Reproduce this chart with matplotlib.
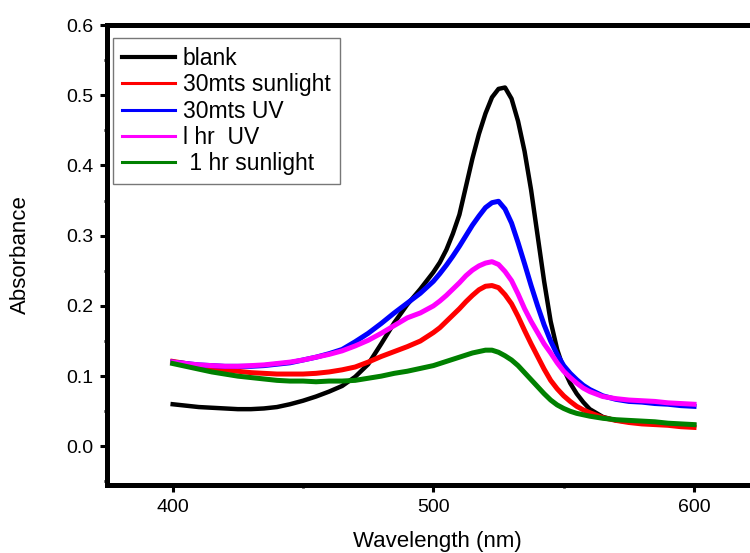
import numpy as np
import matplotlib
matplotlib.use("Agg")
import matplotlib.pyplot as plt
from matplotlib.ticker import MultipleLocator

plt.rcParams["font.family"] = ["Liberation Sans", "DejaVu Sans"]

# Wavelength grid (nm): finer steps across the plasmon band
wavelength = (list(range(400, 500, 5)) + list(np.arange(500, 560, 2.5))
              + list(range(560, 601, 5)))

blank = [0.060, 0.058, 0.056, 0.055, 0.054, 0.053, 0.053, 0.054, 0.056, 0.060,
         0.065, 0.071, 0.078, 0.086, 0.099, 0.117, 0.146, 0.176, 0.202, 0.224,
         0.248, 0.262, 0.280, 0.303, 0.330, 0.370, 0.410, 0.445, 0.474, 0.497,
         0.509, 0.511, 0.495, 0.463, 0.420, 0.365, 0.300, 0.235, 0.178, 0.138,
         0.110, 0.090, 0.075, 0.063,
         0.053, 0.042, 0.037, 0.035, 0.034, 0.033, 0.032, 0.031, 0.030]

sun_30 = [0.121, 0.118, 0.114, 0.111, 0.109, 0.107, 0.105, 0.104, 0.103, 0.103,
          0.103, 0.104, 0.106, 0.109, 0.113, 0.120, 0.128, 0.135, 0.142, 0.150,
          0.162, 0.169, 0.178, 0.187, 0.196, 0.206, 0.215, 0.223, 0.228, 0.229,
          0.226, 0.216, 0.203, 0.185, 0.165, 0.146, 0.128, 0.110, 0.094, 0.082,
          0.072, 0.064, 0.057, 0.052,
          0.048, 0.041, 0.037, 0.034, 0.032, 0.031, 0.030, 0.028, 0.027]

uv_30 = [0.120, 0.118, 0.116, 0.115, 0.114, 0.114, 0.114, 0.115, 0.117, 0.119,
         0.123, 0.127, 0.132, 0.138, 0.149, 0.161, 0.175, 0.190, 0.204, 0.218,
         0.235, 0.246, 0.258, 0.271, 0.285, 0.300, 0.315, 0.328, 0.340, 0.347,
         0.349, 0.338, 0.318, 0.290, 0.260, 0.229, 0.200, 0.173, 0.150, 0.131,
         0.115, 0.104, 0.095, 0.087,
         0.081, 0.072, 0.067, 0.064, 0.063, 0.061, 0.060, 0.058, 0.057]

uv_60 = [0.120, 0.118, 0.116, 0.115, 0.114, 0.114, 0.115, 0.116, 0.118, 0.120,
         0.123, 0.127, 0.131, 0.136, 0.143, 0.151, 0.161, 0.172, 0.183, 0.190,
         0.200, 0.207, 0.215, 0.224, 0.233, 0.243, 0.251, 0.257, 0.261, 0.263,
         0.259, 0.249, 0.236, 0.217, 0.196, 0.178, 0.162, 0.146, 0.133, 0.119,
         0.107, 0.098, 0.090, 0.083,
         0.078, 0.071, 0.068, 0.066, 0.065, 0.064, 0.062, 0.061, 0.060]

sun_60 = [0.118, 0.114, 0.110, 0.106, 0.103, 0.100, 0.098, 0.096, 0.094, 0.093,
          0.093, 0.092, 0.093, 0.093, 0.094, 0.097, 0.100, 0.104, 0.107, 0.111,
          0.115, 0.118, 0.121, 0.124, 0.127, 0.130, 0.133, 0.135, 0.137, 0.137,
          0.134, 0.129, 0.123, 0.115, 0.105, 0.095, 0.085, 0.075, 0.066, 0.059,
          0.054, 0.050, 0.047, 0.045,
          0.043, 0.040, 0.038, 0.037, 0.036, 0.035, 0.033, 0.032, 0.031]

labels = ["blank", "30mts sunlight", "30mts UV", "l hr  UV", " 1 hr sunlight"]
colors = ["black", "#ff0000", "#0000ff", "#ff00ff", "#008000"]

fig = plt.figure(figsize=(7.5, 5.53), dpi=100)
# axes runs past the right edge of the figure
ax = fig.add_axes([107 / 750, 68 / 553, 660 / 750, 460 / 553])

series = [blank, sun_30, uv_30, uv_60, sun_60]
for y, c, lab in zip(series, colors, labels):
    lw = 3.2 if c == "black" else 3.6
    ax.plot(wavelength, y, color=c, lw=lw, label=lab, solid_joinstyle="round")

ax.set_xlim(374.8, 628)
ax.set_ylim(-0.055, 0.6)
ax.xaxis.set_major_locator(MultipleLocator(100))
ax.xaxis.set_minor_locator(MultipleLocator(50))
ax.yaxis.set_minor_locator(MultipleLocator(0.05))
ax.set_yticks(np.arange(0, 0.61, 0.1))
ax.set_yticklabels([f"{v:.1f}" for v in np.arange(0, 0.61, 0.1)])

for s in ax.spines.values():
    s.set_linewidth(3.6)
ax.tick_params(which="major", direction="out", length=5, width=2.2,
               labelsize=14, pad=5)
ax.tick_params(which="minor", direction="out", length=2, width=2)

ax.set_xlabel("Wavelength (nm)", fontsize=16, labelpad=11)
ax.set_ylabel("Absorbance", fontsize=16, labelpad=25)

leg = ax.legend(loc="upper left", bbox_to_anchor=(113 / 750, 1 - 38 / 553),
                bbox_transform=fig.transFigure, fontsize=16.5, fancybox=False,
                borderaxespad=0, borderpad=0.4, handlelength=2.3,
                handletextpad=0.35, labelspacing=0.14)
leg.get_frame().set_edgecolor("#555555")
leg.get_frame().set_linewidth(1.0)
for line, c in zip(leg.get_lines(), colors):
    line.set_linewidth(3.0 if c == "black" else 2.2)

fig.savefig("out.png", dpi=100)
